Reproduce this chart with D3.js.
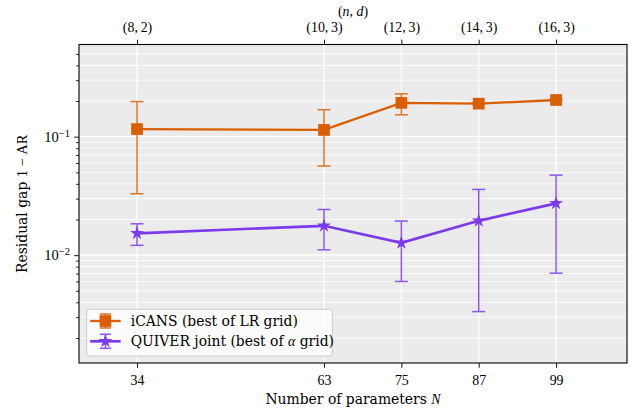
<!DOCTYPE html>
<html>
<head>
<meta charset="utf-8">
<script src="https://cdnjs.cloudflare.com/ajax/libs/d3/7.8.5/d3.min.js"></script>
<style>
  body { margin: 0; background: #fff; }
  svg text { fill: #000; }
</style>
</head>
<body>
<script>
// data
const params   = [34, 63, 75, 87, 99];
const topTicks = ["(8,\u20092)", "(10,\u20093)", "(12,\u20093)", "(14,\u20093)", "(16,\u20093)"];

const icansMean = [0.116, 0.114, 0.193, 0.190, 0.204];
const icansLo   = [0.033, 0.0565, 0.153, 0.187, 0.200];
const icansHi   = [0.198, 0.169, 0.230, 0.194, 0.209];

const quiverMean = [0.0153, 0.0177, 0.0127, 0.0195, 0.0274];
const quiverLo   = [0.0121, 0.0111, 0.0060, 0.00334, 0.00705];
const quiverHi   = [0.0184, 0.0243, 0.0194, 0.0359, 0.0474];

const seriesNames = ["iCANS (best of LR grid)", "QUIVER joint (best of \u03b1 grid)"];
const colors = ["#d95f02", "#7c3aed"];

const WIDTH = 641, HEIGHT = 412;
const margin = {top: 44.5, right: 14, bottom: 49, left: 79};
const width = WIDTH - margin.left - margin.right,
      height = HEIGHT - margin.top - margin.bottom;

const serif = "'DejaVu Serif', serif";
const math = "'Liberation Serif', serif";   // stands in for the CM math text

const svg = d3.select("body").append("svg")
    .attr("width", WIDTH)
    .attr("height", HEIGHT);

const g = svg.append("g")
    .attr("transform", "translate(" + margin.left + "," + margin.top + ")");

const x = d3.scaleLinear().domain([25, 110]).range([0, width]);
const y = d3.scaleLog().domain([0.00123, 0.6]).range([height, 0]);

g.append("rect")
    .attr("width", width)
    .attr("height", height)
    .attr("fill", "#ebebeb");

// grid
const majorY = [0.01, 0.1];
let minorY = [];
[0.001, 0.01, 0.1].forEach(b => {
    for (let k = 2; k <= 9; k++) {
        let v = b * k;
        if (v >= y.domain()[0] && v <= y.domain()[1]) minorY.push(v);
    }
});

g.selectAll(".gminor").data(minorY).enter().append("line")
    .attr("x1", 0).attr("x2", width)
    .attr("y1", d => y(d)).attr("y2", d => y(d))
    .attr("stroke", "#fff").attr("stroke-width", 0.8);

g.selectAll(".gmajor").data(majorY).enter().append("line")
    .attr("x1", 0).attr("x2", width)
    .attr("y1", d => y(d)).attr("y2", d => y(d))
    .attr("stroke", "#fff").attr("stroke-width", 1.2);

g.selectAll(".gx").data(params).enter().append("line")
    .attr("x1", d => x(d)).attr("x2", d => x(d))
    .attr("y1", 0).attr("y2", height)
    .attr("stroke", "#fff").attr("stroke-width", 1.2);

// series
const series = [
    {mean: icansMean, lo: icansLo, hi: icansHi, sym: d3.symbolSquare, size: 137, lw: 2.3},
    {mean: quiverMean, lo: quiverLo, hi: quiverHi, sym: d3.symbolStar, size: 60, lw: 2.7}
];

series.forEach((s, i) => {
    const pts = params.map((p, j) => ({x: p, m: s.mean[j], lo: s.lo[j], hi: s.hi[j]}));
    const eb = g.append("g").attr("stroke", colors[i]).attr("stroke-width", 1.5).attr("opacity", 0.85);
    pts.forEach(d => {
        eb.append("line").attr("x1", x(d.x)).attr("x2", x(d.x)).attr("y1", y(d.lo)).attr("y2", y(d.hi));
        eb.append("line").attr("x1", x(d.x) - 6.5).attr("x2", x(d.x) + 6.5).attr("y1", y(d.lo)).attr("y2", y(d.lo));
        eb.append("line").attr("x1", x(d.x) - 6.5).attr("x2", x(d.x) + 6.5).attr("y1", y(d.hi)).attr("y2", y(d.hi));
    });
    g.append("path")
        .datum(pts)
        .attr("fill", "none")
        .attr("stroke", colors[i])
        .attr("stroke-width", s.lw)
        .attr("d", d3.line().x(d => x(d.x)).y(d => y(d.m)));
    g.selectAll(".m" + i).data(pts).enter().append("path")
        .attr("transform", d => "translate(" + x(d.x) + "," + y(d.m) + ")")
        .attr("d", d3.symbol().type(s.sym).size(s.size))
        .attr("fill", colors[i]);
});

// axes
const xAxis = g.append("g")
    .attr("transform", "translate(0," + height + ")")
    .attr("font-family", math).attr("font-size", 13.9)
    .call(d3.axisBottom(x).tickValues(params).tickSize(4.8).tickPadding(7.5));
xAxis.select(".domain").remove();
xAxis.selectAll("text").attr("font-family", math).attr("font-size", 13.9);

const xTop = g.append("g")
    .call(d3.axisTop(x).tickValues(params).tickSize(4.8).tickPadding(7.8)
        .tickFormat((d, i) => topTicks[i]));
xTop.select(".domain").remove();
xTop.selectAll("text").attr("font-family", math).attr("font-size", 13.9);

const yMinor = g.append("g")
    .call(d3.axisLeft(y).tickValues(minorY).tickSize(2.8).tickFormat(""));
yMinor.select(".domain").remove();

const yAxis = g.append("g")
    .call(d3.axisLeft(y).tickValues(majorY).tickSize(4.8).tickFormat(""));
yAxis.select(".domain").remove();
yAxis.selectAll(".tick").each(function(d) {
    const t = d3.select(this).append("text")
        .attr("x", -9).attr("dy", "0.33em")
        .attr("text-anchor", "end")
        .attr("font-family", math).attr("font-size", 14.5)
        .attr("fill", "#000");
    t.append("tspan").text("10");
    t.append("tspan").attr("dy", "-0.5em").attr("font-size", 10.5)
        .text("\u2212" + Math.round(-Math.log10(d)));
});

g.selectAll(".tick line").attr("stroke", "#000").attr("stroke-width", 0.9);

// frame
g.append("rect")
    .attr("width", width).attr("height", height)
    .attr("fill", "none").attr("stroke", "#000").attr("stroke-width", 1.1);

// labels
const xl = svg.append("text")
    .attr("x", margin.left + width / 2).attr("y", 404.3)
    .attr("text-anchor", "middle")
    .attr("font-family", serif).attr("font-size", 13.9);
xl.append("tspan").text("Number of parameters ");
xl.append("tspan").attr("font-family", math).attr("font-style", "italic").text("N");

const tl = svg.append("text")
    .attr("x", margin.left + width / 2).attr("y", 15.5)
    .attr("text-anchor", "middle")
    .attr("font-family", math).attr("font-size", 13.9);
tl.append("tspan").text("(");
tl.append("tspan").attr("font-style", "italic").text("n");
tl.append("tspan").text(", ");
tl.append("tspan").attr("font-style", "italic").text("d");
tl.append("tspan").text(")");

const yl = svg.append("text")
    .attr("transform", "translate(27," + (margin.top + height / 2) + ") rotate(-90)")
    .attr("text-anchor", "middle")
    .attr("font-family", serif).attr("font-size", 13.9);
yl.append("tspan").text("Residual gap ");
yl.append("tspan").attr("font-family", math).attr("font-size", 14.5).text("1\u2005\u2212\u2005AR");

// legend
const leg = svg.append("g").attr("transform", "translate(86.7,309.3)");
leg.append("rect")
    .attr("width", 245.6).attr("height", 46.7)
    .attr("rx", 3)
    .attr("fill", "#fff").attr("fill-opacity", 0.8)
    .attr("stroke", "#ccc").attr("stroke-width", 1);

seriesNames.forEach((name, i) => {
    const yy = 11.7 + i * 20.3;
    const s = series[i];
    leg.append("line")
        .attr("x1", 3.5).attr("x2", 34).attr("y1", yy).attr("y2", yy)
        .attr("stroke", colors[i]).attr("stroke-width", s.lw);
    leg.append("line")
        .attr("x1", 18.7).attr("x2", 18.7).attr("y1", yy - 7).attr("y2", yy + 7)
        .attr("stroke", colors[i]).attr("stroke-width", 1.5).attr("opacity", 0.85);
    [-7, 7].forEach(o => leg.append("line")
        .attr("x1", 13).attr("x2", 24.4).attr("y1", yy + o).attr("y2", yy + o)
        .attr("stroke", colors[i]).attr("stroke-width", 1.5).attr("opacity", 0.85));
    leg.append("path")
        .attr("transform", "translate(18.7," + yy + ")")
        .attr("d", d3.symbol().type(s.sym).size(s.size))
        .attr("fill", colors[i]);
    const t = leg.append("text")
        .attr("x", 44).attr("y", yy).attr("dy", "0.36em")
        .attr("font-family", serif).attr("font-size", 13.9);
    if (i === 0) {
        t.text(name);
    } else {
        t.append("tspan").text("QUIVER joint (best of ");
        t.append("tspan").attr("font-family", math).attr("font-style", "italic").text("\u03b1");
        t.append("tspan").text(" grid)");
    }
});
</script>
</body>
</html>
